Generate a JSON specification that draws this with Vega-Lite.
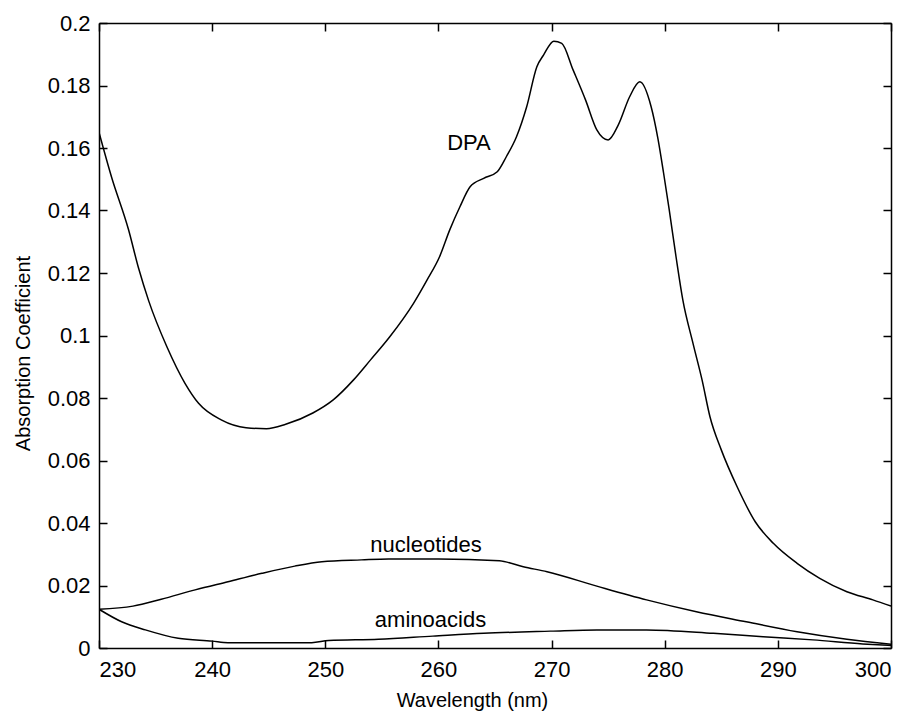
{
  "$schema": "https://vega.github.io/schema/vega-lite/v6.json",
  "width": 792,
  "height": 625,
  "autosize": "none",
  "padding": {"left": 99, "top": 23, "right": 20, "bottom": 67},
  "background": "white",
  "config": {
    "view": {"stroke": null},
    "font": "Liberation Sans",
    "axis": {
      "domainColor": "black", "domainWidth": 1.5, "tickColor": "black", "tickWidth": 1.5,
      "tickSize": -8, "grid": false, "labelColor": "black", "titleColor": "black",
      "labelFont": "Liberation Sans", "titleFont": "Liberation Sans",
      "labelFontSize": 22, "titleFontSize": 20, "titleFontWeight": "normal"
    }
  },
  "datasets": {
    "curves": [
      {"s": "DPA", "wl": 230, "v": 0.1650},
      {"s": "DPA", "wl": 231.1, "v": 0.1508},
      {"s": "DPA", "wl": 232.6, "v": 0.1340},
      {"s": "DPA", "wl": 233.5, "v": 0.1215},
      {"s": "DPA", "wl": 234.4, "v": 0.1110},
      {"s": "DPA", "wl": 236.0, "v": 0.0964},
      {"s": "DPA", "wl": 237.6, "v": 0.0847},
      {"s": "DPA", "wl": 238.8, "v": 0.0783},
      {"s": "DPA", "wl": 240.8, "v": 0.0730},
      {"s": "DPA", "wl": 243.0, "v": 0.0705},
      {"s": "DPA", "wl": 244.8, "v": 0.0702},
      {"s": "DPA", "wl": 246.5, "v": 0.0716},
      {"s": "DPA", "wl": 248.9, "v": 0.0752},
      {"s": "DPA", "wl": 250.7, "v": 0.0794},
      {"s": "DPA", "wl": 252.5, "v": 0.0858},
      {"s": "DPA", "wl": 254.0, "v": 0.0922},
      {"s": "DPA", "wl": 255.7, "v": 0.0996},
      {"s": "DPA", "wl": 257.8, "v": 0.1103},
      {"s": "DPA", "wl": 259.0, "v": 0.1178},
      {"s": "DPA", "wl": 260.1, "v": 0.1252},
      {"s": "DPA", "wl": 261.0, "v": 0.1338},
      {"s": "DPA", "wl": 261.9, "v": 0.1412},
      {"s": "DPA", "wl": 262.8, "v": 0.1476},
      {"s": "DPA", "wl": 264.0, "v": 0.1503},
      {"s": "DPA", "wl": 265.2, "v": 0.1524},
      {"s": "DPA", "wl": 266.0, "v": 0.1572},
      {"s": "DPA", "wl": 266.9, "v": 0.1636},
      {"s": "DPA", "wl": 267.8, "v": 0.1732},
      {"s": "DPA", "wl": 268.7, "v": 0.1860},
      {"s": "DPA", "wl": 269.3, "v": 0.1898},
      {"s": "DPA", "wl": 270.2, "v": 0.1942},
      {"s": "DPA", "wl": 270.9, "v": 0.1935},
      {"s": "DPA", "wl": 271.9, "v": 0.1850},
      {"s": "DPA", "wl": 273.0, "v": 0.1754},
      {"s": "DPA", "wl": 274.0, "v": 0.1658},
      {"s": "DPA", "wl": 275.0, "v": 0.1626},
      {"s": "DPA", "wl": 275.9, "v": 0.1674},
      {"s": "DPA", "wl": 276.9, "v": 0.1764},
      {"s": "DPA", "wl": 277.8, "v": 0.1812},
      {"s": "DPA", "wl": 278.8, "v": 0.1732},
      {"s": "DPA", "wl": 279.4, "v": 0.1630},
      {"s": "DPA", "wl": 279.9, "v": 0.1520},
      {"s": "DPA", "wl": 280.4, "v": 0.1402},
      {"s": "DPA", "wl": 281.0, "v": 0.1252},
      {"s": "DPA", "wl": 281.6, "v": 0.1114},
      {"s": "DPA", "wl": 282.5, "v": 0.0975},
      {"s": "DPA", "wl": 283.3, "v": 0.0858},
      {"s": "DPA", "wl": 284.0, "v": 0.0740},
      {"s": "DPA", "wl": 285.0, "v": 0.0634},
      {"s": "DPA", "wl": 286.4, "v": 0.0516},
      {"s": "DPA", "wl": 288.0, "v": 0.0404},
      {"s": "DPA", "wl": 289.6, "v": 0.0335},
      {"s": "DPA", "wl": 291.7, "v": 0.0271},
      {"s": "DPA", "wl": 293.7, "v": 0.0223},
      {"s": "DPA", "wl": 296.1, "v": 0.0180},
      {"s": "DPA", "wl": 298.4, "v": 0.0154},
      {"s": "DPA", "wl": 300, "v": 0.0134},
      {"s": "nucleotides", "wl": 230, "v": 0.0124},
      {"s": "nucleotides", "wl": 233.0, "v": 0.0134},
      {"s": "nucleotides", "wl": 235.5, "v": 0.0156},
      {"s": "nucleotides", "wl": 238.5, "v": 0.0186},
      {"s": "nucleotides", "wl": 241.4, "v": 0.0212},
      {"s": "nucleotides", "wl": 244.4, "v": 0.0239},
      {"s": "nucleotides", "wl": 247.3, "v": 0.0262},
      {"s": "nucleotides", "wl": 249.7, "v": 0.0276},
      {"s": "nucleotides", "wl": 253.2, "v": 0.0282},
      {"s": "nucleotides", "wl": 255.6, "v": 0.0285},
      {"s": "nucleotides", "wl": 260.0, "v": 0.0285},
      {"s": "nucleotides", "wl": 265.4, "v": 0.0279},
      {"s": "nucleotides", "wl": 267.5, "v": 0.0260},
      {"s": "nucleotides", "wl": 269.6, "v": 0.0244},
      {"s": "nucleotides", "wl": 274.0, "v": 0.0198},
      {"s": "nucleotides", "wl": 278.4, "v": 0.0154},
      {"s": "nucleotides", "wl": 282.8, "v": 0.0116},
      {"s": "nucleotides", "wl": 287.2, "v": 0.0084},
      {"s": "nucleotides", "wl": 291.7, "v": 0.0052},
      {"s": "nucleotides", "wl": 296.1, "v": 0.0028},
      {"s": "nucleotides", "wl": 300, "v": 0.0012},
      {"s": "aminoacids", "wl": 230, "v": 0.0124},
      {"s": "aminoacids", "wl": 232.0, "v": 0.0084},
      {"s": "aminoacids", "wl": 234.1, "v": 0.0058},
      {"s": "aminoacids", "wl": 237.0, "v": 0.0031},
      {"s": "aminoacids", "wl": 240.0, "v": 0.0022},
      {"s": "aminoacids", "wl": 241.4, "v": 0.0017},
      {"s": "aminoacids", "wl": 248.8, "v": 0.0017},
      {"s": "aminoacids", "wl": 250.3, "v": 0.0024},
      {"s": "aminoacids", "wl": 254.7, "v": 0.0028},
      {"s": "aminoacids", "wl": 259.5, "v": 0.0038},
      {"s": "aminoacids", "wl": 264.0, "v": 0.0047},
      {"s": "aminoacids", "wl": 269.9, "v": 0.0054},
      {"s": "aminoacids", "wl": 274.0, "v": 0.0058},
      {"s": "aminoacids", "wl": 278.4, "v": 0.0058},
      {"s": "aminoacids", "wl": 284.3, "v": 0.0047},
      {"s": "aminoacids", "wl": 288.7, "v": 0.0036},
      {"s": "aminoacids", "wl": 293.1, "v": 0.0026},
      {"s": "aminoacids", "wl": 297.5, "v": 0.0013},
      {"s": "aminoacids", "wl": 300, "v": 0.0008}
    ],
    "labels": [
      {"name": "DPA", "wl": 262.7, "v": 0.1616},
      {"name": "nucleotides", "wl": 258.9, "v": 0.0330},
      {"name": "aminoacids", "wl": 259.3, "v": 0.0090}
    ]
  },
  "resolve": {"axis": {"x": "independent", "y": "independent"}},
  "layer": [
    {
      "data": {"name": "curves"},
      "mark": {"type": "line", "color": "black", "strokeWidth": 1.5, "clip": true, "interpolate": "monotone"},
      "encoding": {
        "x": {"field": "wl", "type": "quantitative",
              "scale": {"domain": [230, 300], "nice": false, "zero": false},
              "axis": {"orient": "bottom", "title": "Wavelength (nm)", "values": [230, 240, 250, 260, 270, 280, 290, 300],
                       "labelPadding": 19, "titlePadding": 10, "titleX": 373}},
        "y": {"field": "v", "type": "quantitative",
              "scale": {"domain": [0, 0.2], "nice": false},
              "axis": {"orient": "left", "title": "Absorption Coefficient", "format": "~g",
                       "values": [0, 0.02, 0.04, 0.06, 0.08, 0.1, 0.12, 0.14, 0.16, 0.18, 0.2],
                       "labelPadding": 17, "titlePadding": 14, "titleY": 330}},
        "detail": {"field": "s", "type": "nominal"}
      }
    },
    {
      "data": {"name": "labels"},
      "mark": {"type": "text", "color": "black", "fontSize": 22, "font": "Liberation Sans", "align": "center", "baseline": "middle"},
      "encoding": {
        "x": {"field": "wl", "type": "quantitative",
              "axis": {"orient": "top", "title": null, "labels": false, "values": [230, 240, 250, 260, 270, 280, 290, 300]}},
        "y": {"field": "v", "type": "quantitative",
              "axis": {"orient": "right", "title": null, "labels": false,
                       "values": [0, 0.02, 0.04, 0.06, 0.08, 0.1, 0.12, 0.14, 0.16, 0.18, 0.2]}},
        "text": {"field": "name", "type": "nominal"}
      }
    }
  ]
}
